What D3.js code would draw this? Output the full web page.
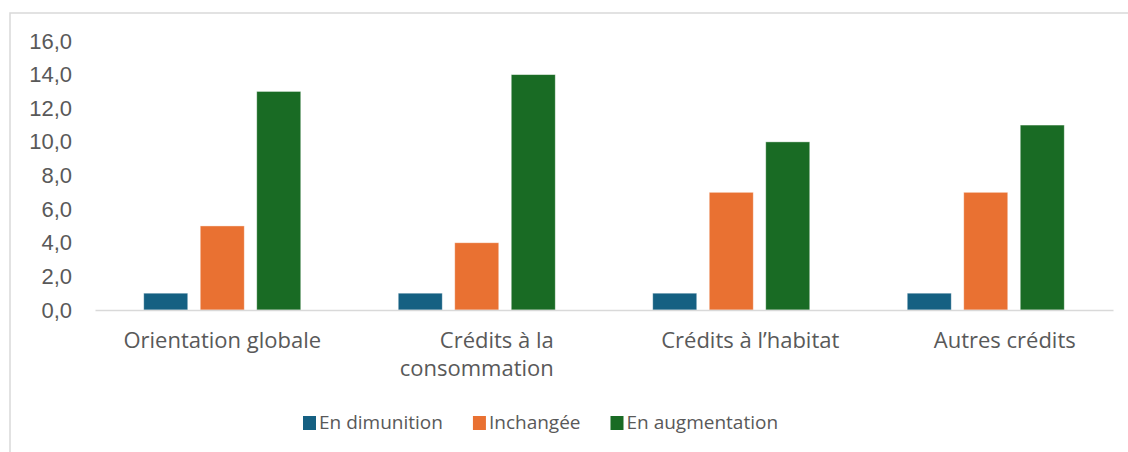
<!DOCTYPE html>
<html>
<head>
<meta charset="utf-8">
<script src="https://cdn.jsdelivr.net/npm/d3@7"></script>
<style>
  body { margin: 0; background: white; }
  svg { display: block; font-family: 'Open Sans', 'Liberation Sans', sans-serif; }
</style>
</head>
<body>
<div id="container"></div>
<script>
let categories = ['Orientation globale', 'Crédits à la consommation', 'Crédits à l\u2019habitat', 'Autres crédits'];
let labelLines = [['Orientation globale'], ['Crédits à la', 'consommation'], ['Crédits à l\u2019habitat'], ['Autres crédits']];
let series = ['En dimunition', 'Inchangée', 'En augmentation'];
let enDiminution = [1, 1, 1, 1];
let inchangee = [5, 4, 7, 7];
let enAugmentation = [13, 14, 10, 11];
let yTicks = [0, 2, 4, 6, 8, 10, 12, 14, 16];
let colors = ['#156082', '#E97132', '#196B24'];

let w = 1128,
    h = 452;

let viz = d3.select('#container')
    .append('svg')
      .attr('width', w)
      .attr('height', h)
      .style('background', 'white');

function main() {
    let values = [enDiminution, inchangee, enAugmentation];

    // chart frame (cut off on the right and bottom, like the screenshot)
    viz.append('rect')
        .attr('x', 10)
        .attr('y', 13)
        .attr('width', w + 50)
        .attr('height', h + 50)
        .attr('fill', 'none')
        .attr('stroke', '#d9d9d9')
        .attr('stroke-width', 1.5);

    let x0 = d3.scaleBand()
        .domain(categories)
        .range([95, 1113])
        .paddingInner(0.383)
        .paddingOuter(0.1915);

    let x1 = d3.scaleBand()
        .domain(series)
        .range([0, x0.bandwidth()])
        .paddingInner(0.221);

    let y = d3.scaleLinear()
        .domain([0, 16])
        .range([310, 41]);

    // y axis labels
    let yAxis = viz.append('g')
        .attr('transform', 'translate(95,0)')
        .call(d3.axisLeft(y)
            .tickValues(yTicks)
            .tickSize(0)
            .tickPadding(23)
            .tickFormat(d => d.toFixed(1).replace('.', ',')));
    yAxis.select('.domain').remove();
    yAxis.selectAll('text')
        .attr('font-family', null)
        .style('font-size', '22px')
        .attr('fill', '#595959');

    // bars
    let groups = viz.append('g').selectAll('g')
        .data(categories)
        .enter()
        .append('g')
          .attr('transform', d => 'translate(' + x0(d) + ',0)');

    groups.selectAll('rect')
        .data((d, i) => series.map((s, j) => ({ s: s, v: values[j][i], c: colors[j] })))
        .enter()
        .append('rect')
          .attr('x', d => x1(d.s))
          .attr('width', x1.bandwidth())
          .attr('y', d => y(d.v))
          .attr('height', d => y(0) - y(d.v))
          .attr('fill', d => d.c)
          .attr('stroke', 'white')
          .attr('stroke-opacity', 0.5)
          .attr('stroke-width', 0.8);

    // baseline
    let xAxis = viz.append('g')
        .attr('transform', 'translate(0,' + y(0) + ')')
        .call(d3.axisBottom(x0).tickSize(0).tickFormat(''));
    xAxis.select('.domain')
        .attr('stroke', '#d9d9d9')
        .attr('stroke-width', 1.5);

    // category labels (wrapped like in the original, the last two sit a bit right of centre)
    let labelDx = [0, 0, 19, 19];
    let labels = viz.append('g')
        .style('font-size', '22px')
        .attr('fill', '#595959');

    categories.forEach((c, i) => {
        let cx = x0(c) + x0.bandwidth() / 2 + labelDx[i];
        let lines = labelLines[i];
        let t = labels.append('text');
        if (lines.length === 1) {
            t.attr('x', cx).attr('y', 348).attr('text-anchor', 'middle').text(lines[0]);
        } else {
            let last = labels.append('text')
                .attr('x', cx).attr('y', 376)
                .attr('text-anchor', 'middle')
                .text(lines[1]);
            let lw = last.node().getComputedTextLength();
            t.attr('x', cx + lw / 2).attr('y', 348).attr('text-anchor', 'end').text(lines[0]);
        }
    });

    // legend
    let legend = viz.append('g')
        .style('font-size', '19px')
        .attr('fill', '#595959');
    let lx = 303;
    series.forEach((s, j) => {
        legend.append('rect')
            .attr('x', lx)
            .attr('y', 416)
            .attr('width', 13)
            .attr('height', 14)
            .attr('fill', colors[j]);
        let t = legend.append('text')
            .attr('x', lx + 16)
            .attr('y', 429)
            .text(s);
        lx += 16 + t.node().getComputedTextLength() + 30;
    });
}

main();
</script>
</body>
</html>
